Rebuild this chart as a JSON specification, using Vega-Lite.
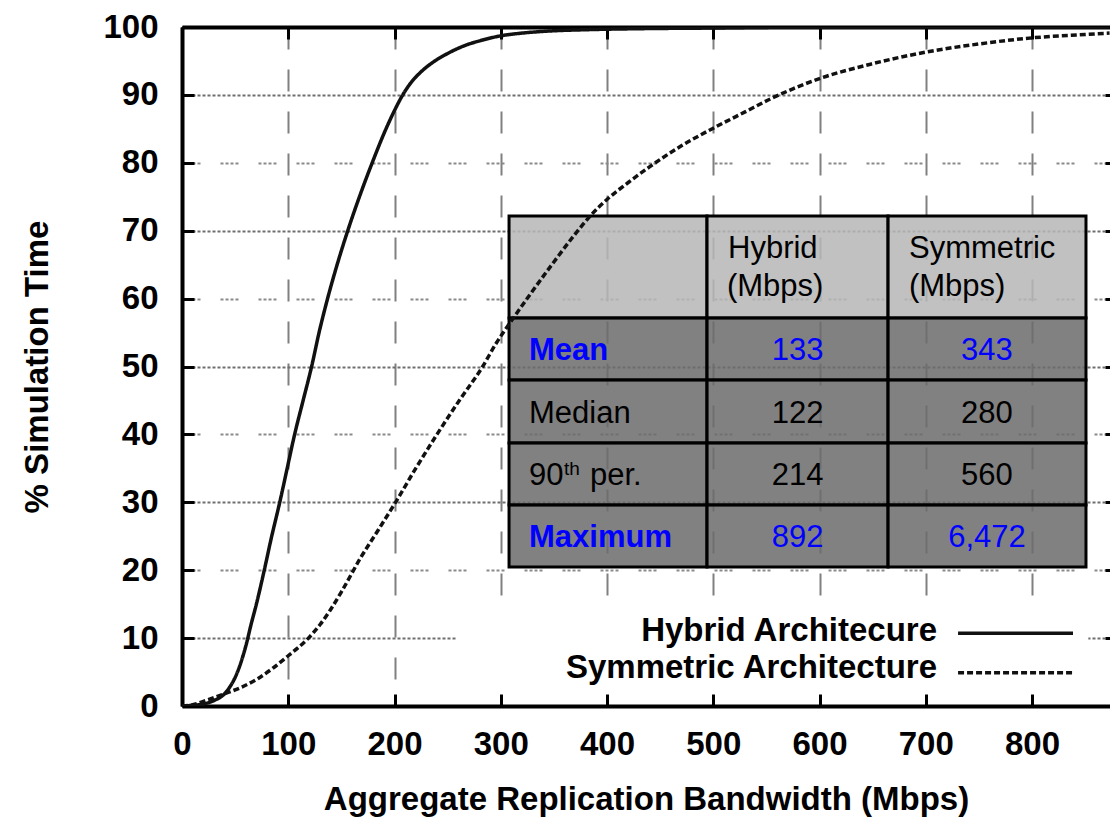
{
  "$schema": "https://vega.github.io/schema/vega-lite/v6.json",
  "width": 928,
  "height": 679,
  "autosize": {"type": "none"},
  "padding": {"left": 182, "top": 27, "right": 0, "bottom": 115},
  "background": "white",
  "config": {"view": {"stroke": null}, "font": "Liberation Sans"},
  "datasets": {
    "curves": [
      {"arch": "Hybrid Architecure", "bw": 0, "pct": 0},
      {"arch": "Hybrid Architecure", "bw": 10, "pct": 0.1},
      {"arch": "Hybrid Architecure", "bw": 20, "pct": 0.3},
      {"arch": "Hybrid Architecure", "bw": 30, "pct": 0.8},
      {"arch": "Hybrid Architecure", "bw": 40, "pct": 1.8},
      {"arch": "Hybrid Architecure", "bw": 45, "pct": 2.8},
      {"arch": "Hybrid Architecure", "bw": 50, "pct": 4.2},
      {"arch": "Hybrid Architecure", "bw": 55, "pct": 6.2},
      {"arch": "Hybrid Architecure", "bw": 60, "pct": 8.8},
      {"arch": "Hybrid Architecure", "bw": 65, "pct": 12},
      {"arch": "Hybrid Architecure", "bw": 70, "pct": 15},
      {"arch": "Hybrid Architecure", "bw": 77, "pct": 19.7},
      {"arch": "Hybrid Architecure", "bw": 84, "pct": 24.7},
      {"arch": "Hybrid Architecure", "bw": 92, "pct": 30},
      {"arch": "Hybrid Architecure", "bw": 99, "pct": 35},
      {"arch": "Hybrid Architecure", "bw": 106, "pct": 40},
      {"arch": "Hybrid Architecure", "bw": 114, "pct": 45},
      {"arch": "Hybrid Architecure", "bw": 122, "pct": 50},
      {"arch": "Hybrid Architecure", "bw": 129, "pct": 55},
      {"arch": "Hybrid Architecure", "bw": 137, "pct": 60},
      {"arch": "Hybrid Architecure", "bw": 146, "pct": 65},
      {"arch": "Hybrid Architecure", "bw": 156, "pct": 70},
      {"arch": "Hybrid Architecure", "bw": 167, "pct": 75},
      {"arch": "Hybrid Architecure", "bw": 179, "pct": 80},
      {"arch": "Hybrid Architecure", "bw": 192, "pct": 85},
      {"arch": "Hybrid Architecure", "bw": 200, "pct": 87.7},
      {"arch": "Hybrid Architecure", "bw": 207, "pct": 89.8},
      {"arch": "Hybrid Architecure", "bw": 215, "pct": 91.7},
      {"arch": "Hybrid Architecure", "bw": 225, "pct": 93.4},
      {"arch": "Hybrid Architecure", "bw": 238, "pct": 95},
      {"arch": "Hybrid Architecure", "bw": 250, "pct": 96.1},
      {"arch": "Hybrid Architecure", "bw": 265, "pct": 97.2},
      {"arch": "Hybrid Architecure", "bw": 281, "pct": 98},
      {"arch": "Hybrid Architecure", "bw": 300, "pct": 98.7},
      {"arch": "Hybrid Architecure", "bw": 320, "pct": 99.1},
      {"arch": "Hybrid Architecure", "bw": 345, "pct": 99.4},
      {"arch": "Hybrid Architecure", "bw": 380, "pct": 99.6},
      {"arch": "Hybrid Architecure", "bw": 430, "pct": 99.75},
      {"arch": "Hybrid Architecure", "bw": 500, "pct": 99.85},
      {"arch": "Hybrid Architecure", "bw": 560, "pct": 99.95},
      {"arch": "Hybrid Architecure", "bw": 873, "pct": 100},
      {"arch": "Symmetric Architecture", "bw": 0, "pct": 0},
      {"arch": "Symmetric Architecture", "bw": 10, "pct": 0.2},
      {"arch": "Symmetric Architecture", "bw": 26, "pct": 1.0},
      {"arch": "Symmetric Architecture", "bw": 40, "pct": 1.8},
      {"arch": "Symmetric Architecture", "bw": 55, "pct": 2.7},
      {"arch": "Symmetric Architecture", "bw": 70, "pct": 3.9},
      {"arch": "Symmetric Architecture", "bw": 85, "pct": 5.5},
      {"arch": "Symmetric Architecture", "bw": 100, "pct": 7.4},
      {"arch": "Symmetric Architecture", "bw": 119, "pct": 10},
      {"arch": "Symmetric Architecture", "bw": 130, "pct": 12},
      {"arch": "Symmetric Architecture", "bw": 139, "pct": 14},
      {"arch": "Symmetric Architecture", "bw": 150, "pct": 16.8},
      {"arch": "Symmetric Architecture", "bw": 168, "pct": 21.8},
      {"arch": "Symmetric Architecture", "bw": 185, "pct": 26},
      {"arch": "Symmetric Architecture", "bw": 201, "pct": 30},
      {"arch": "Symmetric Architecture", "bw": 220, "pct": 35},
      {"arch": "Symmetric Architecture", "bw": 240, "pct": 40},
      {"arch": "Symmetric Architecture", "bw": 261, "pct": 45},
      {"arch": "Symmetric Architecture", "bw": 283, "pct": 50},
      {"arch": "Symmetric Architecture", "bw": 296, "pct": 53.5},
      {"arch": "Symmetric Architecture", "bw": 309, "pct": 56.5},
      {"arch": "Symmetric Architecture", "bw": 328, "pct": 60.7},
      {"arch": "Symmetric Architecture", "bw": 350, "pct": 65.4},
      {"arch": "Symmetric Architecture", "bw": 370, "pct": 69.5},
      {"arch": "Symmetric Architecture", "bw": 385, "pct": 72.3},
      {"arch": "Symmetric Architecture", "bw": 400, "pct": 74.6},
      {"arch": "Symmetric Architecture", "bw": 420, "pct": 77.1},
      {"arch": "Symmetric Architecture", "bw": 440, "pct": 79.4},
      {"arch": "Symmetric Architecture", "bw": 470, "pct": 82.5},
      {"arch": "Symmetric Architecture", "bw": 500, "pct": 85.1},
      {"arch": "Symmetric Architecture", "bw": 530, "pct": 87.5},
      {"arch": "Symmetric Architecture", "bw": 555, "pct": 89.5},
      {"arch": "Symmetric Architecture", "bw": 575, "pct": 90.9},
      {"arch": "Symmetric Architecture", "bw": 600, "pct": 92.4},
      {"arch": "Symmetric Architecture", "bw": 650, "pct": 94.6},
      {"arch": "Symmetric Architecture", "bw": 700, "pct": 96.3},
      {"arch": "Symmetric Architecture", "bw": 750, "pct": 97.5},
      {"arch": "Symmetric Architecture", "bw": 800, "pct": 98.4},
      {"arch": "Symmetric Architecture", "bw": 850, "pct": 98.9},
      {"arch": "Symmetric Architecture", "bw": 873, "pct": 99.1}
    ],
    "cells": [
      {"part": "header", "x0": 307.8, "x1": 494.1, "y0": 57.14, "y1": 72.16},
      {"part": "header", "x0": 494.1, "x1": 664.5, "y0": 57.14, "y1": 72.16},
      {"part": "header", "x0": 664.5, "x1": 850.8, "y0": 57.14, "y1": 72.16},
      {"part": "body", "x0": 307.8, "x1": 494.1, "y0": 48.0, "y1": 57.14},
      {"part": "body", "x0": 494.1, "x1": 664.5, "y0": 48.0, "y1": 57.14},
      {"part": "body", "x0": 664.5, "x1": 850.8, "y0": 48.0, "y1": 57.14},
      {"part": "body", "x0": 307.8, "x1": 494.1, "y0": 38.73, "y1": 48.0},
      {"part": "body", "x0": 494.1, "x1": 664.5, "y0": 38.73, "y1": 48.0},
      {"part": "body", "x0": 664.5, "x1": 850.8, "y0": 38.73, "y1": 48.0},
      {"part": "body", "x0": 307.8, "x1": 494.1, "y0": 29.6, "y1": 38.73},
      {"part": "body", "x0": 494.1, "x1": 664.5, "y0": 29.6, "y1": 38.73},
      {"part": "body", "x0": 664.5, "x1": 850.8, "y0": 29.6, "y1": 38.73},
      {"part": "body", "x0": 307.8, "x1": 494.1, "y0": 20.47, "y1": 29.6},
      {"part": "body", "x0": 494.1, "x1": 664.5, "y0": 20.47, "y1": 29.6},
      {"part": "body", "x0": 664.5, "x1": 850.8, "y0": 20.47, "y1": 29.6}
    ],
    "tableText": [
      {"kind": "head", "row": "header", "t": "Hybrid", "x": 513.9, "y": 66.0},
      {"kind": "head", "row": "header", "t": "(Mbps)", "x": 512.9, "y": 60.35},
      {"kind": "head", "row": "header", "t": "Symmetric", "x": 684.2, "y": 66.0},
      {"kind": "head", "row": "header", "t": "(Mbps)", "x": 684.2, "y": 60.35},
      {"kind": "label", "row": "Mean", "t": "Mean", "x": 326.6, "y": 50.96},
      {"kind": "label", "row": "Median", "t": "Median", "x": 326.6, "y": 41.74},
      {"kind": "label", "row": "90th", "t": "90", "x": 326.6, "y": 32.55},
      {"kind": "sup", "row": "90th", "t": "th", "x": 359.5, "y": 34.0},
      {"kind": "label", "row": "90th", "t": "per.", "x": 384.0, "y": 32.55},
      {"kind": "label", "row": "Maximum", "t": "Maximum", "x": 326.6, "y": 23.42},
      {"kind": "num", "row": "Mean", "t": "133", "x": 579.3, "y": 50.96},
      {"kind": "num", "row": "Mean", "t": "343", "x": 757.6, "y": 50.96},
      {"kind": "num", "row": "Median", "t": "122", "x": 579.3, "y": 41.74},
      {"kind": "num", "row": "Median", "t": "280", "x": 757.6, "y": 41.74},
      {"kind": "num", "row": "90th", "t": "214", "x": 579.3, "y": 32.55},
      {"kind": "num", "row": "90th", "t": "560", "x": 757.6, "y": 32.55},
      {"kind": "num", "row": "Maximum", "t": "892", "x": 579.3, "y": 23.42},
      {"kind": "num", "row": "Maximum", "t": "6,472", "x": 757.6, "y": 23.42}
    ],
    "legendItems": [
      {"arch": "Hybrid Architecure", "tx": 710.6, "ty": 9.57, "lx0": 730.4, "lx1": 838.6, "ly": 10.7},
      {"arch": "Symmetric Architecture", "tx": 710.6, "ty": 4.12, "lx0": 730.4, "lx1": 838.6, "ly": 4.9}
    ]
  },
  "resolve": {"axis": {"x": "independent", "y": "independent"}},
  "layer": [
    {
      "data": {"name": "cells"},
      "mark": {"type": "rect", "stroke": "black", "strokeWidth": 3, "fillOpacity": 0.86},
      "encoding": {
        "x": {"field": "x0", "type": "quantitative", "axis": null},
        "x2": {"field": "x1"},
        "y": {"field": "y0", "type": "quantitative", "axis": null},
        "y2": {"field": "y1"},
        "fill": {"field": "part", "type": "nominal", "scale": {"domain": ["header", "body"], "range": ["#b7b7b7", "#6c6c6c"]}, "legend": null}
      }
    },
    {
      "data": {"name": "tableText"},
      "transform": [{"filter": "datum.kind === 'head' || (datum.kind === 'label' && datum.row !== 'Mean' && datum.row !== 'Maximum')"}],
      "mark": {"type": "text", "align": "left", "baseline": "alphabetic", "font": "Liberation Sans", "fontSize": 31, "color": "black"},
      "encoding": {
        "x": {"field": "x", "type": "quantitative", "axis": null},
        "y": {"field": "y", "type": "quantitative", "axis": null},
        "text": {"field": "t"}
      }
    },
    {
      "data": {"name": "tableText"},
      "transform": [{"filter": "datum.kind === 'label' && (datum.row === 'Mean' || datum.row === 'Maximum')"}],
      "mark": {"type": "text", "align": "left", "baseline": "alphabetic", "font": "Liberation Sans", "fontSize": 31, "fontWeight": "bold", "color": "#0000ff"},
      "encoding": {
        "x": {"field": "x", "type": "quantitative", "axis": null},
        "y": {"field": "y", "type": "quantitative", "axis": null},
        "text": {"field": "t"}
      }
    },
    {
      "data": {"name": "tableText"},
      "transform": [{"filter": "datum.kind === 'sup'"}],
      "mark": {"type": "text", "align": "left", "baseline": "alphabetic", "font": "Liberation Sans", "fontSize": 19, "color": "black"},
      "encoding": {
        "x": {"field": "x", "type": "quantitative", "axis": null},
        "y": {"field": "y", "type": "quantitative", "axis": null},
        "text": {"field": "t"}
      }
    },
    {
      "data": {"name": "tableText"},
      "transform": [{"filter": "datum.kind === 'num'"}],
      "mark": {"type": "text", "align": "center", "baseline": "alphabetic", "font": "Liberation Sans", "fontSize": 31},
      "encoding": {
        "x": {"field": "x", "type": "quantitative", "axis": null},
        "y": {"field": "y", "type": "quantitative", "axis": null},
        "text": {"field": "t"},
        "color": {"condition": {"test": "datum.row === 'Mean' || datum.row === 'Maximum'", "value": "#0000ff"}, "value": "black"}
      }
    },
    {
      "data": {"name": "curves"},
      "mark": {"type": "line", "strokeWidth": 3.5, "color": "#111111", "clip": true, "interpolate": "monotone"},
      "encoding": {
        "x": {
          "field": "bw", "type": "quantitative",
          "scale": {"domain": [0, 873.4], "nice": false, "zero": false},
          "axis": {
            "orient": "bottom",
            "title": "Aggregate Replication Bandwidth (Mbps)",
            "values": [0, 100, 200, 300, 400, 500, 600, 700, 800],
            "grid": true, "gridColor": "#808080", "gridWidth": 2, "gridDash": [22, 20],
            "domain": true, "domainColor": "black", "domainWidth": 4,
            "ticks": true, "tickColor": "black", "tickWidth": 3, "tickSize": -12,
            "labelPadding": 34, "labelFont": "Liberation Sans", "labelFontSize": 33, "labelFontWeight": "bold", "labelColor": "black",
            "labelFlush": false, "labelOverlap": false,
            "titleFont": "Liberation Sans", "titleFontSize": 33, "titleFontWeight": "bold", "titleColor": "black", "titlePadding": 22
          }
        },
        "y": {
          "field": "pct", "type": "quantitative",
          "scale": {"domain": [0, 100], "nice": false},
          "axis": {
            "orient": "left",
            "title": "% Simulation Time",
            "values": [0, 10, 20, 30, 40, 50, 60, 70, 80, 90, 100],
            "grid": true,
            "gridColor": {"condition": {"test": "datum.value % 20 === 10", "value": "#6e6e6e"}, "value": "#8a8a8a"},
            "gridWidth": 2,
            "gridDash": {"condition": {"test": "datum.value % 20 === 10", "value": [3, 2]}, "value": [3, 2, 3, 2, 3, 2, 3, 20]},
            "domain": true, "domainColor": "black", "domainWidth": 4,
            "ticks": true, "tickColor": "black", "tickWidth": 3, "tickSize": -12,
            "labelPadding": 36, "labelFont": "Liberation Sans", "labelFontSize": 33, "labelFontWeight": "bold", "labelColor": "black",
            "labelFlush": false, "labelOverlap": false,
            "titleFont": "Liberation Sans", "titleFontSize": 33, "titleFontWeight": "bold", "titleColor": "black", "titlePadding": 48
          }
        },
        "strokeDash": {"field": "arch", "type": "nominal", "scale": {"domain": ["Hybrid Architecure", "Symmetric Architecture"], "range": [[1, 0], [6, 3]]}, "legend": null}
      }
    },
    {
      "data": {"values": [{}]},
      "mark": {"type": "rect", "fill": "white"},
      "encoding": {
        "x": {"datum": 258.8, "type": "quantitative", "axis": null},
        "x2": {"datum": 853},
        "y": {"datum": 2.0, "type": "quantitative", "axis": null},
        "y2": {"datum": 13.4}
      }
    },
    {
      "data": {"name": "legendItems"},
      "mark": {"type": "text", "align": "right", "baseline": "alphabetic", "font": "Liberation Sans", "fontSize": 33, "fontWeight": "bold", "color": "black"},
      "encoding": {
        "x": {"field": "tx", "type": "quantitative", "axis": null},
        "y": {"field": "ty", "type": "quantitative", "axis": null},
        "text": {"field": "arch"}
      }
    },
    {
      "data": {"name": "legendItems"},
      "mark": {"type": "rule", "strokeWidth": 3.5, "color": "#111111"},
      "encoding": {
        "x": {
          "field": "lx0", "type": "quantitative",
          "scale": {"domain": [0, 873.4], "nice": false, "zero": false},
          "axis": {
            "orient": "top", "title": null, "labels": false, "grid": false,
            "values": [0, 100, 200, 300, 400, 500, 600, 700, 800],
            "domain": true, "domainColor": "black", "domainWidth": 4,
            "ticks": true, "tickColor": "black", "tickWidth": 3, "tickSize": -12
          }
        },
        "x2": {"field": "lx1"},
        "y": {
          "field": "ly", "type": "quantitative",
          "scale": {"domain": [0, 100], "nice": false},
          "axis": {
            "orient": "right", "title": null, "labels": false, "grid": false, "domain": false,
            "values": [10, 20, 30, 40, 50, 60, 70, 80, 90],
            "ticks": true, "tickColor": "black", "tickWidth": 3, "tickSize": -5
          }
        },
        "strokeDash": {"field": "arch", "type": "nominal", "scale": {"domain": ["Hybrid Architecure", "Symmetric Architecture"], "range": [[1, 0], [6, 3]]}, "legend": null}
      }
    }
  ]
}
